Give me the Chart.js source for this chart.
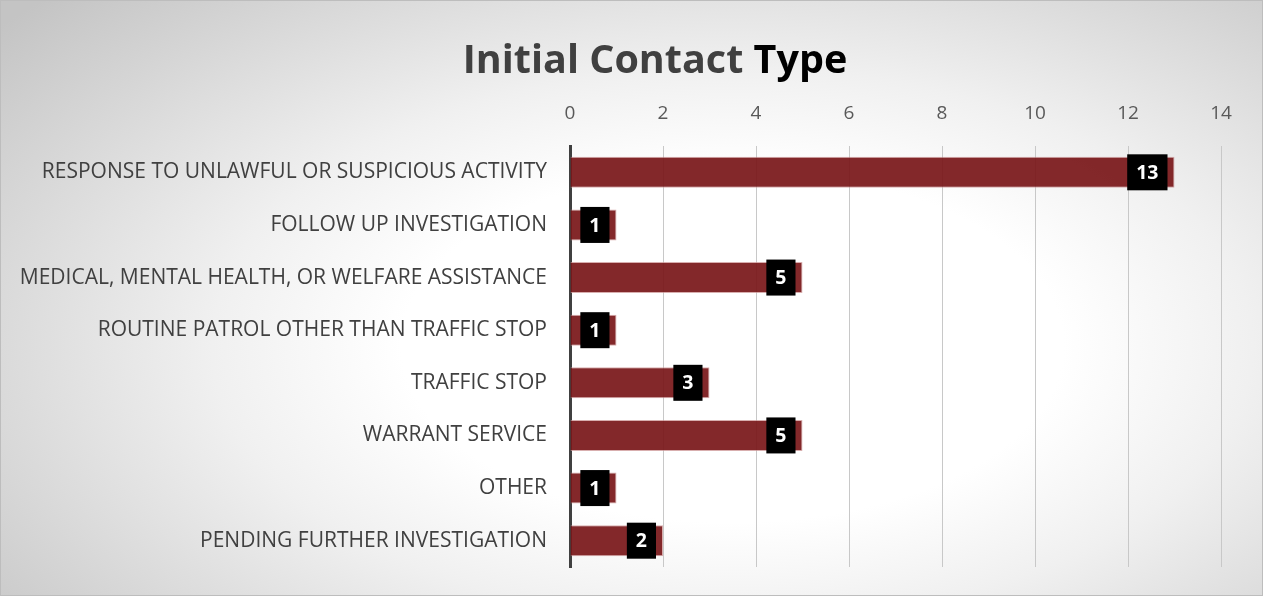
<!DOCTYPE html>
<html>
<head>
<meta charset="utf-8">
<script src="https://cdn.jsdelivr.net/npm/chart.js@4.4.0/dist/chart.umd.min.js"></script>
<style>
  html, body { margin: 0; padding: 0; }
  body { width: 1263px; height: 596px; overflow: hidden; }
  .frame {
    width: 1261px; height: 594px; border: 1px solid #bdbdbd;
    background: radial-gradient(ellipse 75% 85% at 58% 58%, #ffffff 35%, #f0f0f0 55%, #c4c4c4 100%);
  }
</style>
</head>
<body>
<div class="frame"><canvas id="chart" width="1261" height="594"></canvas></div>
<script>
const categories = [
  'RESPONSE TO UNLAWFUL OR SUSPICIOUS ACTIVITY',
  'FOLLOW UP INVESTIGATION',
  'MEDICAL, MENTAL HEALTH, OR WELFARE ASSISTANCE',
  'ROUTINE PATROL OTHER THAN TRAFFIC STOP',
  'TRAFFIC STOP',
  'WARRANT SERVICE',
  'OTHER',
  'PENDING FURTHER INVESTIGATION',
];
const counts = [13, 1, 5, 1, 3, 5, 1, 2];
const xTicks = [0, 2, 4, 6, 8, 10, 12, 14];

const FONT = '"Open Sans", "Noto Sans", sans-serif';

// title drawn by hand: last word is black, the rest dark gray
const titlePlugin = {
  id: 'twoToneTitle',
  afterDraw(chart) {
    const ctx = chart.ctx;
    const parts = [['Initial Contact ', '#404040'], ['Type', '#000000']];
    ctx.save();
    ctx.font = `bold 39.5px ${FONT}`;
    ctx.textBaseline = 'middle';
    const total = parts.reduce((s, p) => s + ctx.measureText(p[0]).width, 0);
    let x = 654 - total / 2;
    parts.forEach(([text, color]) => {
      ctx.fillStyle = color;
      ctx.fillText(text, x, 61);
      x += ctx.measureText(text).width;
    });
    ctx.restore();
  },
};

// black value boxes sitting just inside the bar end
const valueBoxes = {
  id: 'valueBoxes',
  afterDatasetsDraw(chart) {
    const ctx = chart.ctx;
    const meta = chart.getDatasetMeta(0);
    ctx.save();
    ctx.font = `bold 19.5px ${FONT}`;
    ctx.textAlign = 'center';
    ctx.textBaseline = 'middle';
    meta.data.forEach((bar, i) => {
      const text = String(counts[i]);
      const w = ctx.measureText(text).width + 18;
      const h = 36;
      const right = bar.x - 7;
      ctx.fillStyle = '#000';
      ctx.fillRect(right - w, bar.y - h / 2, w, h);
      ctx.fillStyle = '#fff';
      ctx.fillText(text, right - w / 2, bar.y + 1);
    });
    ctx.restore();
  },
};

new Chart(document.getElementById('chart'), {
  type: 'bar',
  data: {
    labels: categories,
    datasets: [{
      data: counts,
      backgroundColor: 'rgba(122, 24, 26, 0.93)',
      borderColor: 'rgba(200, 140, 140, 0.7)',
      borderWidth: 1,
      borderSkipped: 'left',
      barPercentage: 0.59,
      categoryPercentage: 1,
    }],
  },
  options: {
    indexAxis: 'y',
    responsive: false,
    animation: false,
    layout: { padding: { top: 95, right: 41, bottom: 28, left: 0 } },
    plugins: { legend: { display: false }, title: { display: false }, tooltip: { enabled: false } },
    scales: {
      x: {
        position: 'top',
        min: 0,
        max: 14,
        afterBuildTicks: (scale) => { scale.ticks = xTicks.map((v) => ({ value: v })); },
        afterFit: (scale) => { scale.height = 50; },
        ticks: { color: '#595959', font: { family: FONT, size: 19 }, padding: 21 },
        grid: { color: '#c8c8c8', lineWidth: 1, drawTicks: false },
        border: { display: false },
      },
      y: {
        afterFit: (scale) => {
          scale.width = 569;
          scale.paddingTop = 0;
          scale.paddingBottom = 0;
        },
        ticks: { color: '#404040', font: { family: FONT, size: 21 }, padding: 23 },
        grid: { display: false, drawTicks: false },
        border: { display: true, color: '#404040', width: 3 },
      },
    },
  },
  plugins: [titlePlugin, valueBoxes],
});
</script>
</body>
</html>
